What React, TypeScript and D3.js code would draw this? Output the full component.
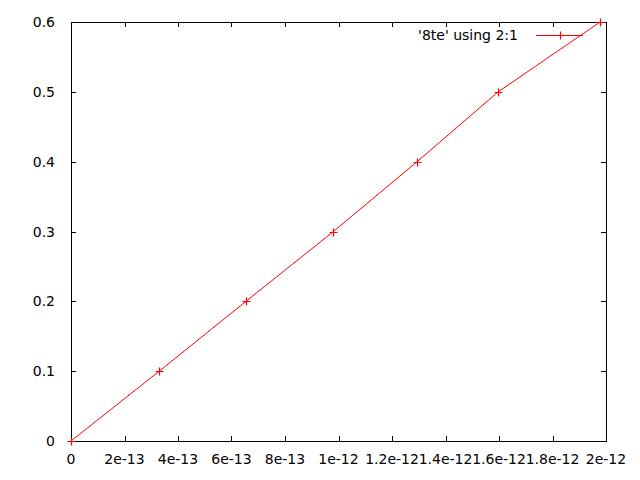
import React from "react";
import * as d3 from "d3";

const xValues = [0, 0.33e-12, 0.654e-12, 0.981e-12, 1.294e-12, 1.597e-12, 1.978e-12];
const yValues = [0, 0.1, 0.2, 0.3, 0.4, 0.5, 0.6];

const xTickValues = [0, 2e-13, 4e-13, 6e-13, 8e-13, 1e-12, 1.2e-12, 1.4e-12, 1.6e-12, 1.8e-12, 2e-12];
const xTickLabels = ["0", "2e-13", "4e-13", "6e-13", "8e-13", "1e-12", "1.2e-12", "1.4e-12", "1.6e-12", "1.8e-12", "2e-12"];
const yTickValues = [0, 0.1, 0.2, 0.3, 0.4, 0.5, 0.6];
const yTickLabels = ["0", "0.1", "0.2", "0.3", "0.4", "0.5", "0.6"];
const legendLabel = "'8te' using 2:1";

const W = 640;
const H = 480;
const left = 71;
const right = 606;
const top = 22;
const bottom = 441;
const FONT = "'DejaVu Sans', sans-serif";
const FS = 14;
const RED = "#ff0000";
const TICK = 5;

const px = (v: number) => Math.round(v) + 0.5;

export default function App() {
  const x = d3.scaleLinear().domain([0, 2e-12]).range([left, right]);
  const y = d3.scaleLinear().domain([0, 0.6]).range([bottom, top]);
  const pts = xValues.map((v, i) => [x(v), y(yValues[i])] as [number, number]);
  const line = d3.line<[number, number]>()(pts) || "";
  const cross = (cx: number, cy: number, k: string) => {
    const a = px(cx), b = px(cy);
    return <path key={k} d={`M${a - 4},${b}H${a + 4}M${a},${b - 4}V${b + 4}`} stroke={RED} strokeWidth={1.2} fill="none" />;
  };
  const lx1 = 536, lx2 = 583, ly = 35;
  return (
    <svg width={W} height={H} style={{ position: "absolute", left: 0, top: 0, background: "#fff" }} fontFamily={FONT} fontSize={FS}>
      <rect x={0} y={0} width={W} height={H} fill="#fff" />
      {xTickValues.map((v, i) => (
        <g key={"xt" + i}>
          <line x1={px(x(v))} x2={px(x(v))} y1={bottom} y2={bottom - TICK} stroke="#000" shapeRendering="crispEdges" />
          <line x1={px(x(v))} x2={px(x(v))} y1={top} y2={top + TICK} stroke="#000" shapeRendering="crispEdges" />
          <text x={x(v)} y={bottom + 18} textAnchor="middle" dominantBaseline="central" fill="#000">{xTickLabels[i]}</text>
        </g>
      ))}
      {yTickValues.map((v, i) => (
        <g key={"yt" + i}>
          <line x1={left} x2={left + TICK} y1={px(y(v))} y2={px(y(v))} stroke="#000" shapeRendering="crispEdges" />
          <line x1={right} x2={right - TICK} y1={px(y(v))} y2={px(y(v))} stroke="#000" shapeRendering="crispEdges" />
          <text x={left - 16} y={y(v)} textAnchor="end" dominantBaseline="central" fill="#000">{yTickLabels[i]}</text>
        </g>
      ))}
      <rect x={left + 0.5} y={top + 0.5} width={right - left} height={bottom - top} fill="none" stroke="#000" />
      <text x={518} y={ly} textAnchor="end" dominantBaseline="central" fill="#000">{legendLabel}</text>
      <line x1={lx1} x2={lx2} y1={ly + 0.5} y2={ly + 0.5} stroke={RED} strokeWidth={1.2} />
      {cross((lx1 + lx2) / 2, ly, "lc")}
      <path d={line} fill="none" stroke={RED} strokeWidth={1} />
      {pts.map((p, i) => cross(p[0], p[1], "p" + i))}
    </svg>
  );
}
